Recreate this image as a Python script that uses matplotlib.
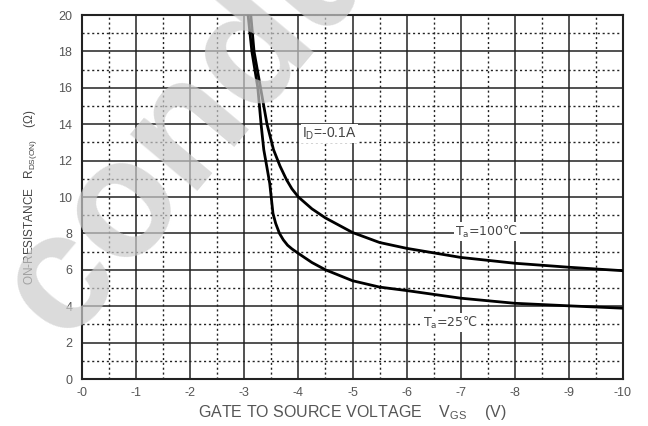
import matplotlib
matplotlib.use("Agg")
import matplotlib.pyplot as plt
from matplotlib.ticker import MultipleLocator

plt.rcParams['font.family'] = ['Liberation Sans', 'DejaVu Sans']
plt.rcParams['mathtext.default'] = 'regular'

# data
vgs_100 = [-3.12, -3.18, -3.30, -3.42, -3.54, -3.66, -3.78, -3.88, -4.0, -4.25, -4.5, -5.0, -5.5, -6.0, -7.0, -8.0, -9.0, -10.0]
rds_100 = [20.0, 18.0, 16.0, 14.0, 12.6, 11.7, 10.95, 10.45, 10.0, 9.35, 8.85, 8.05, 7.5, 7.18, 6.68, 6.36, 6.14, 5.95]

vgs_25 = [-3.07, -3.14, -3.25, -3.31, -3.36, -3.42, -3.47, -3.53, -3.58, -3.65, -3.72, -3.8, -3.88, -4.0, -4.25, -4.5, -5.0, -5.5, -6.0, -7.0, -8.0, -9.0, -10.0]
rds_25 = [20.0, 18.0, 16.0, 14.0, 12.6, 11.6, 10.75, 9.1, 8.55, 8.0, 7.65, 7.35, 7.15, 6.9, 6.4, 6.0, 5.4, 5.05, 4.86, 4.44, 4.16, 4.02, 3.89]

x_ticks = [0, -1, -2, -3, -4, -5, -6, -7, -8, -9, -10]
x_tick_labels = ["-0", "-1", "-2", "-3", "-4", "-5", "-6", "-7", "-8", "-9", "-10"]
y_ticks = [0, 2, 4, 6, 8, 10, 12, 14, 16, 18, 20]

fig = plt.figure(figsize=(6.48, 4.26), dpi=100)
ax = fig.add_axes([82/648, 1-379/426, 541/648, 364/426])

ax.plot(vgs_100, rds_100, color="black", lw=2, zorder=4)
ax.plot(vgs_25, rds_25, color="black", lw=2, zorder=4)

ax.set_xlim(0, -10)
ax.set_ylim(0, 20)
ax.set_xticks(x_ticks)
ax.set_xticklabels(x_tick_labels)
ax.set_yticks(y_ticks)
ax.xaxis.set_minor_locator(MultipleLocator(0.5))
ax.yaxis.set_minor_locator(MultipleLocator(1))

## grid
ax.grid(which="major", color="#222222", lw=1.1, ls="-")
ax.grid(which="minor", color="#222222", lw=1.0, ls=(0, (1.5, 2)))
ax.set_axisbelow(True)
ax.tick_params(which="both", length=0)
ax.tick_params(axis="x", pad=6, labelsize=9, colors="#555555")
ax.tick_params(axis="y", pad=7, labelsize=9, colors="#555555")
for s in ax.spines.values():
    s.set_linewidth(1.5)
    s.set_color("#222222")

ax.set_xlabel("GATE TO SOURCE VOLTAGE    V$_{GS}$    (V)", fontsize=11.5, color="#555555", labelpad=3)
ax.set_ylabel("ON-RESISTANCE   R$_{DS(ON)}$    (Ω)", fontsize=8.5, color="#444444", labelpad=14)

## annotations
box = dict(facecolor="white", edgecolor="none", pad=1)
ax.text(-4.07, 13.5, "I$_D$=-0.1A", fontsize=10, color="#444444", va="center", ha="left", bbox=box, zorder=5)
ax.text(-6.9, 8.1, "T$_a$=100℃", fontsize=9, family=["DejaVu Sans"], color="#444444",
        va="center", ha="left", bbox=box, zorder=5)
ax.text(-6.3, 3.1, "T$_a$=25℃", fontsize=9, family=["DejaVu Sans"], color="#444444",
        va="center", ha="left", bbox=box, zorder=5)

## watermark
fig.text(0.098, 0.195, "conductor", fontsize=120, fontweight="bold", color="#cccccc", alpha=0.7,
         rotation=50, rotation_mode="anchor", ha="left", va="baseline", zorder=10)

plt.savefig("out.png", dpi=100)
